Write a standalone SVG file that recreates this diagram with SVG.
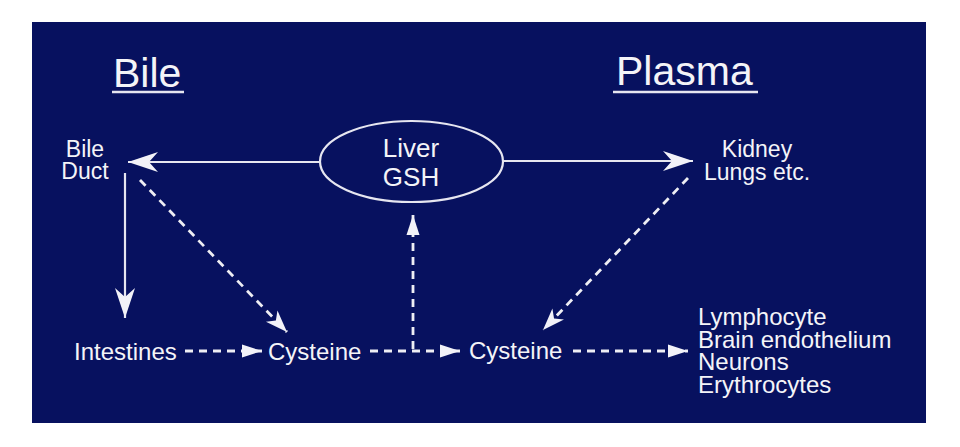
<svg xmlns="http://www.w3.org/2000/svg" width="960" height="447" viewBox="0 0 960 447">
<style>
  .t { font-family: "Liberation Sans", Arial, sans-serif; fill: #f4f4f8; }
  .solid { stroke: #e6e6f0; stroke-width: 2.2; fill: none; }
  .dash { stroke: #eeeef4; stroke-width: 2.8; fill: none; stroke-dasharray: 8 6; }
</style>
<defs>
  <marker id="barbL" markerUnits="userSpaceOnUse" orient="auto" refX="0" refY="0" markerWidth="34" markerHeight="24" viewBox="-32 -12 34 24" overflow="visible">
    <path d="M0,0 L-30,-10 L-21,0 L-30,10 Z" fill="#f2f2f8"/>
  </marker>
  <marker id="barbS" markerUnits="userSpaceOnUse" orient="auto" refX="0" refY="0" markerWidth="26" markerHeight="18" viewBox="-24 -9 26 18" overflow="visible">
    <path d="M0,0 L-22,-8 L-16,0 L-22,8 Z" fill="#f2f2f8"/>
  </marker>
  <marker id="tri" markerUnits="userSpaceOnUse" orient="auto" refX="0" refY="0" markerWidth="24" markerHeight="16" viewBox="-22 -8 24 16" overflow="visible">
    <path d="M0,0 L-20,-6.5 L-20,6.5 Z" fill="#f2f2f8"/>
  </marker>
</defs>
<rect x="0" y="0" width="960" height="447" fill="#ffffff"/>
<rect x="32" y="22" width="894" height="401" fill="#07115f"/>

<g id="title-bile">
  <text class="t" x="113" y="87" font-size="41">Bile</text>
  <line x1="112" y1="92" x2="184" y2="92" stroke="#e6e6f0" stroke-width="2.5"/>
</g>
<g id="title-plasma">
  <text class="t" x="616" y="85" font-size="41">Plasma</text>
  <line x1="613" y1="92" x2="758" y2="92" stroke="#e6e6f0" stroke-width="2.5"/>
</g>

<g id="liver">
  <ellipse cx="411.5" cy="161.5" rx="91.5" ry="40.5" fill="none" stroke="#e6e6f0" stroke-width="2.2"/>
  <text class="t" x="411" y="157" font-size="26" text-anchor="middle">Liver</text>
  <text class="t" x="411" y="186" font-size="26" text-anchor="middle">GSH</text>
</g>
<g id="bile-duct">
  <text class="t" x="85" y="157" font-size="23" text-anchor="middle">Bile</text>
  <text class="t" x="85" y="179" font-size="23" text-anchor="middle">Duct</text>
</g>
<g id="kidney">
  <text class="t" x="757" y="157" font-size="23" text-anchor="middle">Kidney</text>
  <text class="t" x="757" y="180" font-size="23" text-anchor="middle">Lungs etc.</text>
</g>
<g id="intestines">
  <text class="t" x="74" y="360" font-size="24">Intestines</text>
</g>
<g id="cysteine-bile">
  <text class="t" x="268" y="360" font-size="24">Cysteine</text>
</g>
<g id="cysteine-plasma">
  <text class="t" x="469" y="359" font-size="24">Cysteine</text>
</g>
<g id="targets">
  <text class="t" x="698" y="325" font-size="24">Lymphocyte</text>
  <text class="t" x="698" y="347.5" font-size="24">Brain endothelium</text>
  <text class="t" x="698" y="370" font-size="24">Neurons</text>
  <text class="t" x="698" y="392.5" font-size="24">Erythrocytes</text>
</g>

<g id="connectors">
  <line class="solid" x1="320" y1="162" x2="128" y2="162" marker-end="url(#barbL)"/>
  <line class="solid" x1="503" y1="161" x2="693" y2="161" marker-end="url(#barbL)"/>
  <line class="solid" x1="125" y1="173" x2="125" y2="318" marker-end="url(#barbL)"/>
  <line class="dash" x1="140" y1="180" x2="287" y2="332" marker-end="url(#barbS)"/>
  <line class="dash" x1="688" y1="178" x2="543" y2="330" marker-end="url(#barbS)"/>
  <line class="dash" x1="185" y1="351" x2="262" y2="351" marker-end="url(#tri)"/>
  <line class="dash" x1="370" y1="351" x2="460" y2="351" marker-end="url(#tri)"/>
  <line class="dash" x1="573" y1="351" x2="688" y2="351" marker-end="url(#tri)"/>
  <line class="dash" x1="413" y1="349" x2="413" y2="215" marker-end="url(#tri)"/>
</g>
</svg>
